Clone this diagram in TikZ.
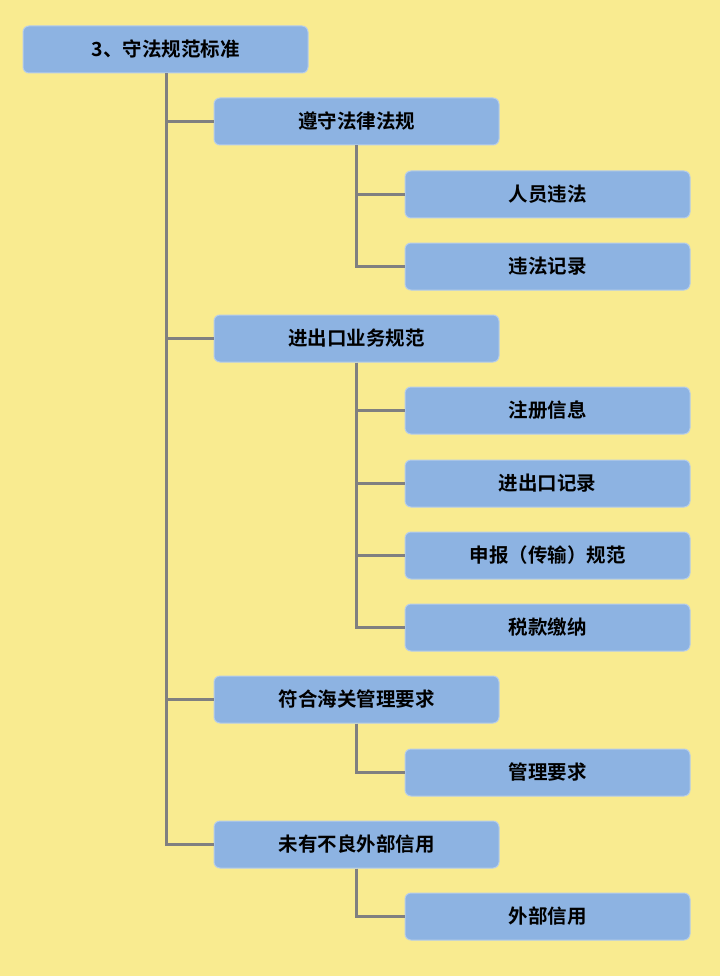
\documentclass[tikz,border=0pt]{standalone}
\usepackage{fontspec}
\newfontfamily\cjk{Noto Sans CJK SC Bold}
\definecolor{bgyellow}{HTML}{F9EB90}
\definecolor{boxblue}{HTML}{8DB3E2}
\definecolor{boxedge}{HTML}{B6CDEA}
\definecolor{linegray}{HTML}{808080}
\begin{document}
\begin{tikzpicture}[x=1pt,y=-1pt,
  box/.style={draw=boxedge, line width=1pt, fill=boxblue, rounded corners=6pt,
    minimum width=285pt, minimum height=47pt, inner sep=0pt,
    font=\cjk\fontsize{19.5}{19.5}\selectfont, text=black},
  conn/.style={draw=linegray, line width=3pt}]
\fill[bgyellow] (0,0) rectangle (720,976);
\useasboundingbox (0,0) rectangle (720,976);
% root
\node[box] (root) at (165.5,49.5) {3、守法规范标准};
% level 1
\node[box] (a) at (356.5,121.5) {遵守法律法规};
\node[box] (b) at (356.5,338.5) {进出口业务规范};
\node[box] (c) at (356.5,699.5) {符合海关管理要求};
\node[box] (d) at (356.5,844.5) {未有不良外部信用};
% level 2
\node[box] (a1) at (547.5,194.5) {人员违法};
\node[box] (a2) at (547.5,266.5) {违法记录};
\node[box] (b1) at (547.5,410.5) {注册信息};
\node[box] (b2) at (547.5,483.5) {进出口记录};
\node[box] (b3) at (547.5,555.5) {申报（传输）规范};
\node[box] (b4) at (547.5,627.5) {税款缴纳};
\node[box] (c1) at (547.5,772.5) {管理要求};
\node[box] (d1) at (547.5,916.5) {外部信用};
% connectors
\draw[conn] (root.south) ++(0.5,0) coordinate (rt) -- (rt |- d.west) -- (d.west);
\foreach \n in {a,b,c} \draw[conn] (rt |- \n.west) -- (\n.west);
\draw[conn] (a.south) -- (a.south |- a2.west) -- (a2.west);
\draw[conn] (a.south |- a1.west) -- (a1.west);
\draw[conn] (b.south) -- (b.south |- b4.west) -- (b4.west);
\foreach \n in {b1,b2,b3} \draw[conn] (b.south |- \n.west) -- (\n.west);
\draw[conn] (c.south) -- (c.south |- c1.west) -- (c1.west);
\draw[conn] (d.south) -- (d.south |- d1.west) -- (d1.west);
\end{tikzpicture}
\end{document}
